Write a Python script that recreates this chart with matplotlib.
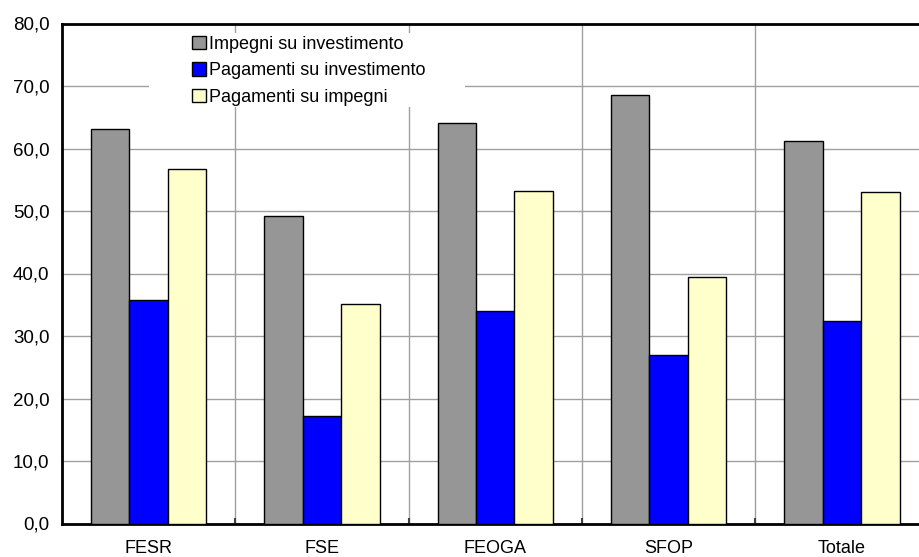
import matplotlib.pyplot as plt
from matplotlib.patches import Rectangle
from matplotlib.ticker import FuncFormatter
import numpy as np

plt.rcParams['font.family'] = ['Liberation Sans', 'DejaVu Sans']

# --- Dati ---
categorie = ["FESR", "FSE", "FEOGA", "SFOP", "Totale"]
impegni_investimento = [63.2, 49.2, 64.1, 68.6, 61.2]
pagamenti_investimento = [35.7, 17.2, 34.0, 26.9, 32.4]
pagamenti_impegni = [56.7, 35.2, 53.2, 39.4, 53.1]

serie = [
    ("Impegni su investimento", impegni_investimento, "#969696"),
    ("Pagamenti su investimento", pagamenti_investimento, "#0000FF"),
    ("Pagamenti su impegni", pagamenti_impegni, "#FFFFCC"),
]

fig = plt.figure(figsize=(9.19, 5.57), dpi=100)
ax = fig.add_axes([62 / 919, 33.5 / 557, (928.5 - 62) / 919, 500 / 557])

x = np.arange(len(categorie))
w = 0.222
handles = []
for i, (nome, valori, colore) in enumerate(serie):
    b = ax.bar(x + (i - 1) * w, valori, w, color=colore, edgecolor="black",
               linewidth=1.0, label=nome, zorder=3)
    handles.append(b)

ax.set_xlim(-0.5, 4.5)
ax.set_ylim(0, 80)
ax.set_yticks(np.arange(0, 81, 10))
ax.yaxis.set_major_formatter(FuncFormatter(lambda v, p: f"{v:.1f}".replace(".", ",")))
ax.set_xticks(x)
ax.set_xticklabels(categorie)
ax.set_xticks(np.arange(0.5, 4.5, 1), minor=True)

ax.tick_params(axis="y", length=0, pad=9, labelsize=13.5)
ax.tick_params(axis="x", which="major", length=0, pad=12, labelsize=13)
ax.tick_params(axis="x", which="minor", direction="in", length=4, width=1.5, color="#404040")

ax.set_axisbelow(True)
ax.grid(axis="y", color="#a0a0a0", linewidth=1.0)
ax.grid(axis="x", which="minor", color="#a0a0a0", linewidth=1.0)

for lato in ["left", "bottom", "top"]:
    ax.spines[lato].set_linewidth(2)
    ax.spines[lato].set_color("black")
ax.spines["right"].set_visible(False)

# sfondo bianco della legenda
ax.add_patch(Rectangle((0.0, 66.6), 1.825, 11.9, facecolor="white",
                       edgecolor="none", zorder=1.5))

leg = ax.legend(handles=handles, loc="upper left", bbox_to_anchor=(0.150, 0.975),
                frameon=False, fontsize=13, handlelength=0.75, handleheight=0.75,
                handletextpad=0.2, labelspacing=0.52, borderpad=0, borderaxespad=0)
for h in leg.legend_handles:
    h.set_linewidth(1.0)

fig.savefig("out.png", dpi=100)
